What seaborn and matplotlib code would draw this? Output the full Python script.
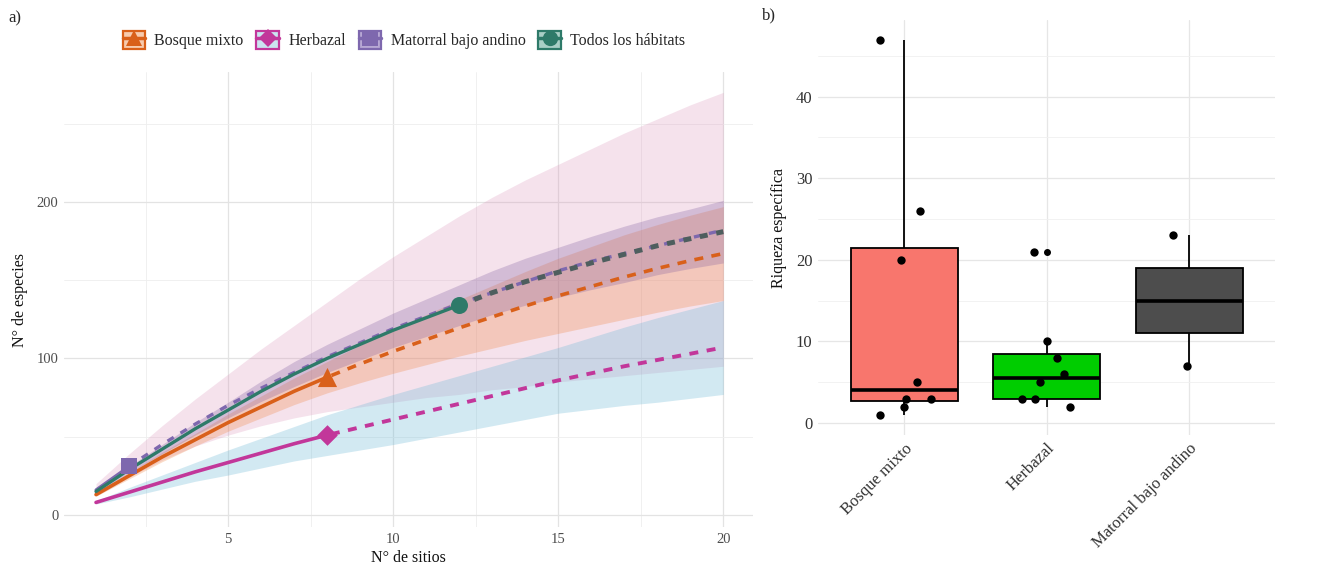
import numpy as np
import pandas as pd
import matplotlib
matplotlib.use("Agg")
import matplotlib.pyplot as plt
import seaborn as sns
from matplotlib.patches import Rectangle
from matplotlib.lines import Line2D

# ---------------- data: panel a (rarefaction / extrapolation) ----------------
sites = list(range(1, 21))
habitats = ["Bosque mixto", "Herbazal", "Matorral bajo andino", "Todos los hábitats"]
observed_sites = {"Bosque mixto": 8, "Herbazal": 8, "Matorral bajo andino": 2, "Todos los hábitats": 12}

bosque_mean = [13, 25, 37, 48, 59, 69, 79, 88, 96.5, 104.5, 112, 119.5, 126.5, 133.5, 140, 146, 152, 157.5, 162.5, 167]
bosque_lower = [12, 23, 34, 44, 53.5, 62, 70.5, 78, 84.5, 90.5, 96, 101.5, 106.5, 111.5, 116, 120.5, 125, 129.5, 133.5, 137]
bosque_upper = [14, 27, 40, 52, 64.5, 76, 87.5, 98, 108.5, 118.5, 128, 137.5, 146.5, 155.5, 164, 171.5, 179, 185.5, 191.5, 197]

herb_mean = [8, 14.5, 21, 27.5, 33.5, 39.5, 45.5, 51, 56, 61, 66, 71, 76, 81, 86, 90.5, 95, 99, 103, 107]
herb_lower = [7, 11.5, 16.5, 21.5, 25.5, 30, 34.5, 38, 41.5, 45, 49, 53, 57, 61, 65, 67.5, 70, 72, 74.5, 77]
herb_upper = [9, 17.5, 25.5, 33.5, 41.5, 49, 56.5, 64, 70.5, 77, 83, 89, 95, 101, 107, 113.5, 120, 126, 131.5, 137]

mat_mean = [16, 31, 45, 58, 70, 81, 91, 101, 110, 119, 127, 135, 142, 149, 156, 162, 167, 172, 177, 182]
mat_lower = [12, 24, 35, 44, 51, 57, 62, 66, 69, 72, 75, 77, 80, 82, 85, 87, 89, 91, 93, 95]
mat_upper = [20, 39, 57, 74, 90, 106, 121, 136, 151, 165, 178, 191, 203, 214, 224, 234, 244, 253, 262, 270]

todos_mean = [15, 29, 42, 55, 67, 79, 90, 100, 109, 118, 126, 134, 142, 149, 155, 161, 166.5, 172, 176.5, 181]
todos_lower = [14, 27, 39, 51, 62, 72.5, 82, 91, 99, 107, 114, 121, 128, 134, 139, 144, 148.5, 153.5, 157.5, 161]
todos_upper = [16, 31, 45, 59, 72, 85.5, 98, 109, 119, 129, 138, 147, 156, 164, 171, 178, 184.5, 190.5, 195.5, 201]

# ---------------- data: panel b (species richness per site) ----------------
box_categories = ["Bosque mixto", "Herbazal", "Matorral bajo andino"]
bosque_rich = [47, 26, 20, 5, 3, 3, 2, 1]
herb_rich = [21, 10, 8, 6, 5, 3, 3, 2]
mat_rich = [23, 7]

x_ticks_a = [5, 10, 15, 20]
y_ticks_a = [0, 100, 200]
y_ticks_b = [0, 10, 20, 30, 40]

# ---------------- style ----------------
FONT = ["Liberation Serif", "DejaVu Serif"]
sns.set_theme(style="white")
plt.rcParams["font.family"] = FONT

line_col = {"Bosque mixto": "#D9601A", "Herbazal": "#C2379A",
            "Matorral bajo andino": "#7E68AE", "Todos los hábitats": "#2E7A69"}
ext_col = {"Bosque mixto": "#D9601A", "Herbazal": "#C2379A",
           "Matorral bajo andino": "#7E68AE", "Todos los hábitats": "#4E5E5E"}
rib_col = {"Bosque mixto": ("#F08A4B", 0.30), "Herbazal": ("#6BB8D6", 0.30),
           "Matorral bajo andino": ("#D98CB5", 0.25), "Todos los hábitats": ("#7D5A9E", 0.28)}
key_fill = {"Bosque mixto": "#F7CBAE", "Herbazal": "#CBE4F0",
            "Matorral bajo andino": "#B7A8D4", "Todos los hábitats": "#A9CFC6"}
markers = {"Bosque mixto": "^", "Herbazal": "D", "Matorral bajo andino": "s", "Todos los hábitats": "o"}
msize = {"Bosque mixto": 190, "Herbazal": 110, "Matorral bajo andino": 130, "Todos los hábitats": 150}
lw = {"Bosque mixto": 2.6, "Herbazal": 2.6, "Matorral bajo andino": 2.2, "Todos los hábitats": 2.4}
ext_lw = {"Bosque mixto": 2.6, "Herbazal": 2.8, "Matorral bajo andino": 2.4, "Todos los hábitats": 3.6}
ext_dash = {"Bosque mixto": (2.5, 2.3), "Herbazal": (2.3, 2.2), "Matorral bajo andino": (2.2, 2.4),
            "Todos los hábitats": (1.6, 1.75)}

curves = {
    "Bosque mixto": (bosque_mean, bosque_lower, bosque_upper),
    "Herbazal": (herb_mean, herb_lower, herb_upper),
    "Matorral bajo andino": (mat_mean, mat_lower, mat_upper),
    "Todos los hábitats": (todos_mean, todos_lower, todos_upper),
}

rows = []
for h, (m, lo, up) in curves.items():
    for s, a, b, c in zip(sites, m, lo, up):
        rows.append({"habitat": h, "sites": s, "mean": a, "lower": b, "upper": c})
curve_df = pd.DataFrame(rows)

W, H = 1330, 568
fig = plt.figure(figsize=(W / 100, H / 100), dpi=100)
fig.patch.set_facecolor("white")

# ---------------- panel a ----------------
axa = fig.add_axes([64 / W, 1 - 527 / H, 689 / W, 455 / H])
axa.set_facecolor("white")

rib_order = ["Matorral bajo andino", "Herbazal", "Bosque mixto", "Todos los hábitats"]
for h in rib_order:
    d = curve_df[curve_df.habitat == h]
    c, a = rib_col[h]
    axa.fill_between(d["sites"], d["lower"], d["upper"], color=c, alpha=a, lw=0, zorder=1)

line_order = ["Herbazal", "Bosque mixto", "Matorral bajo andino", "Todos los hábitats"]
for h in line_order:
    d = curve_df[curve_df.habitat == h]
    n = observed_sites[h]
    rare = d[d.sites <= n]
    extr = d[d.sites >= n]
    if h == "Matorral bajo andino":
        sns.lineplot(data=extr, x="sites", y="mean", ax=axa, color=ext_col[h], lw=ext_lw[h],
                     linestyle=(0, ext_dash[h]), estimator=None, sort=True, zorder=3)
        sns.lineplot(data=rare, x="sites", y="mean", ax=axa, color=line_col[h], lw=lw[h],
                     estimator=None, zorder=3)
    else:
        sns.lineplot(data=rare, x="sites", y="mean", ax=axa, color=line_col[h], lw=lw[h],
                     estimator=None, zorder=4)
        sns.lineplot(data=extr, x="sites", y="mean", ax=axa, color=ext_col[h], lw=ext_lw[h],
                     linestyle=(3.5, ext_dash[h]), estimator=None, zorder=4)

for h in line_order:
    d = curve_df[(curve_df.habitat == h) & (curve_df.sites == observed_sites[h])]
    sns.scatterplot(data=d, x="sites", y="mean", ax=axa, marker=markers[h], s=msize[h],
                    color=line_col[h], edgecolor=line_col[h], linewidth=0, zorder=6)

axa.set_xlim(0.03, 20.9)
axa.set_ylim(-7.7, 283)
axa.set_xticks(x_ticks_a)
axa.set_yticks(y_ticks_a)
axa.set_xticks([2.5, 7.5, 12.5, 17.5], minor=True)
axa.set_yticks([50, 150, 250], minor=True)
axa.grid(True, which="major", color="#E3E3E3", lw=0.9, zorder=0)
axa.grid(True, which="minor", color="#EEEEEE", lw=0.6, zorder=0)
axa.set_axisbelow(True)
for sp in axa.spines.values():
    sp.set_visible(False)
axa.tick_params(axis="both", which="both", length=0, labelsize=10.5, labelcolor="#4D4D4D", pad=4)
axa.set_xlabel("N° de sitios", fontsize=11.5, labelpad=3, color="#111111")
axa.set_ylabel("N° de especies", fontsize=11.5, labelpad=6, color="#111111")

# legend
handles = []
for h in habitats:
    patch = Rectangle((0, 0), 1, 1, facecolor=key_fill[h], edgecolor=line_col[h], lw=1.6)
    ln = Line2D([], [], color=line_col[h], lw=2.5, marker=markers[h],
                markersize=11 if h != "Herbazal" else 9, markeredgewidth=0)
    handles.append((patch, ln))
fig.legend(handles, habitats, loc="center", bbox_to_anchor=(404 / W, 1 - 40 / H), ncol=4,
           frameon=False, fontsize=11.5, handlelength=1.4, handleheight=1.4,
           handletextpad=0.6, columnspacing=0.8, borderaxespad=0)

fig.text(8 / W, 1 - 18 / H, "a)", fontsize=12, va="center", ha="left")

# ---------------- panel b ----------------
rich_df = pd.DataFrame({
    "habitat": ["Bosque mixto"] * len(bosque_rich) + ["Herbazal"] * len(herb_rich)
               + ["Matorral bajo andino"] * len(mat_rich),
    "riqueza": bosque_rich + herb_rich + mat_rich,
})

axb = fig.add_axes([818 / W, 1 - 435 / H, 457 / W, 415 / H])
axb.set_facecolor("white")
box_pal = {"Bosque mixto": "#F8766D", "Herbazal": "#00CD00", "Matorral bajo andino": "#4D4D4D"}
sns.boxplot(data=rich_df, x="habitat", y="riqueza", hue="habitat", order=box_categories,
            hue_order=box_categories, palette=box_pal, width=0.75, linecolor="black",
            linewidth=1.3, showcaps=False, saturation=1, legend=False, ax=axb,
            medianprops=dict(linewidth=2.6, color="black"),
            flierprops=dict(marker="o", markersize=4, markerfacecolor="black",
                            markeredgecolor="black"), zorder=2)
np.random.seed(7)
sns.stripplot(data=rich_df, x="habitat", y="riqueza", order=box_categories, color="black",
              size=6, jitter=0.2, ax=axb, zorder=5)

axb.set_xlim(-0.604, 2.6)
axb.set_ylim(-1.47, 49.4)
axb.set_yticks(y_ticks_b)
axb.set_yticks([5, 15, 25, 35, 45], minor=True)
axb.grid(True, which="major", color="#E6E6E6", lw=0.9)
axb.grid(True, which="minor", axis="y", color="#F0F0F0", lw=0.6)
axb.set_axisbelow(True)
for sp in axb.spines.values():
    sp.set_visible(False)
axb.tick_params(axis="both", which="both", length=0, labelsize=12, labelcolor="#333333", pad=4)
plt.setp(axb.get_xticklabels(), rotation=45, ha="right", rotation_mode="anchor")
axb.set_xlabel("")
axb.set_ylabel("Riqueza específica", fontsize=11.5, labelpad=6, color="#111111")

fig.text(762 / W, 1 - 15 / H, "b)", fontsize=12, va="center", ha="left")

fig.savefig("out.png", dpi=100, facecolor="white")
